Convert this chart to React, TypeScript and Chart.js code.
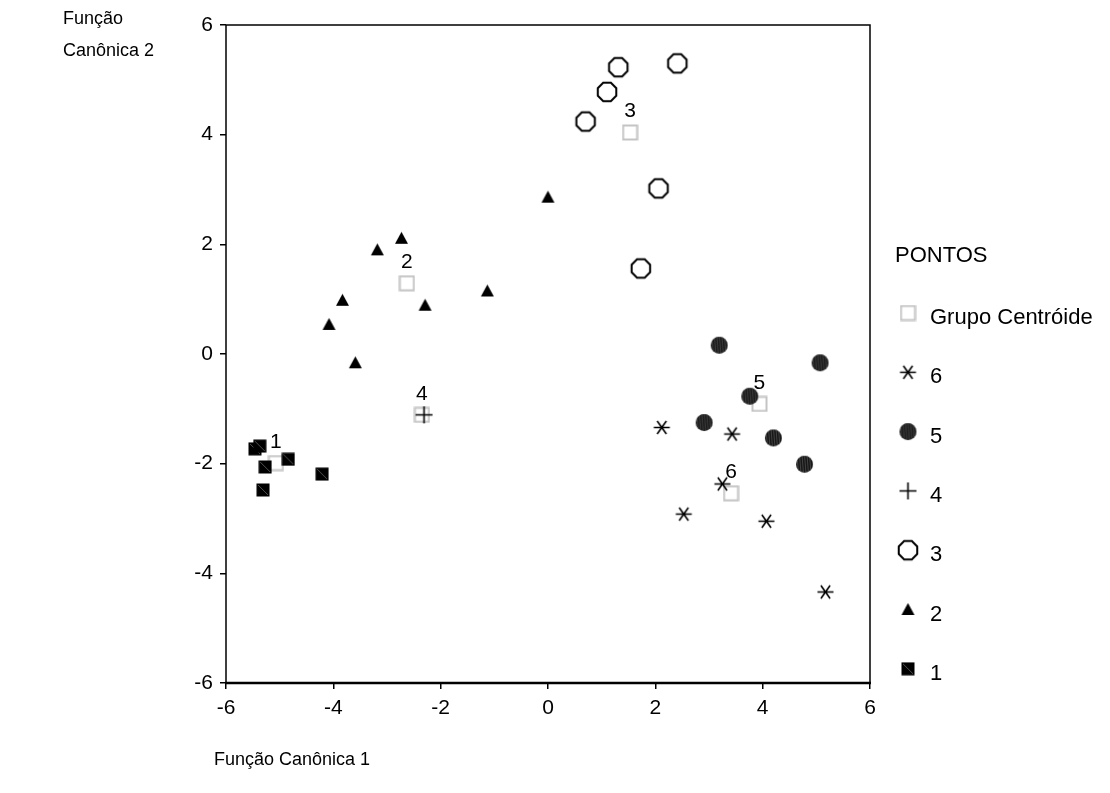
import React, { useEffect, useRef } from "react";
import { Chart, registerables } from "chart.js";

Chart.register(...registerables);

// ---- data ----
const group1X = [-5.46, -5.37, -5.27, -4.84, -5.31, -4.21];
const group1Y = [-1.73, -1.68, -2.06, -1.92, -2.48, -2.19];

const group2X = [-2.73, -3.18, -3.83, -4.08, -3.59, -2.29, -1.13, 0.0];
const group2Y = [2.11, 1.9, 0.98, 0.54, -0.16, 0.89, 1.15, 2.86];

const group3X = [1.31, 2.41, 1.1, 0.7, 2.06, 1.73];
const group3Y = [5.23, 5.3, 4.78, 4.24, 3.02, 1.56];

const group4X = [-2.31];
const group4Y = [-1.11];

const group5X = [3.19, 5.07, 3.76, 2.91, 4.2, 4.78];
const group5Y = [0.16, -0.16, -0.77, -1.25, -1.53, -2.01];

const group6X = [2.12, 3.43, 3.25, 2.53, 4.07, 5.17];
const group6Y = [-1.34, -1.46, -2.37, -2.92, -3.05, -4.34];

const centroidLabels = ["1", "2", "3", "4", "5", "6"];
const centroidX = [-5.07, -2.63, 1.53, -2.35, 3.94, 3.41];
const centroidY = [-1.99, 1.29, 4.04, -1.11, -0.91, -2.54];

const axisTicks = [-6, -4, -2, 0, 2, 4, 6];

const legendTitle = "PONTOS";
const legendLabels = ["Grupo Centróide", "6", "5", "4", "3", "2", "1"];
const yTitleLines = ["Função", "Canônica 2"];
const xTitle = "Função Canônica 1";

const FONT = "'Liberation Sans', Arial, sans-serif";
const FS = 21;
const TITLE_FS = 18;
const LEGEND_FS = 22;

// ---- marker images ----
function mk(size: number, draw: (c: CanvasRenderingContext2D, s: number) => void) {
  const cv = document.createElement("canvas");
  cv.width = size;
  cv.height = size;
  const c = cv.getContext("2d")!;
  draw(c, size);
  return cv;
}

function makeMarkers() {
  const square = mk(14, (c, s) => {
    c.fillStyle = "#000";
    c.fillRect(0.5, 0.5, s - 1, s - 1);
    c.strokeStyle = "#666";
    c.lineWidth = 0.8;
    c.beginPath();
    c.moveTo(2, 2);
    c.lineTo(s - 2, s - 2);
    c.stroke();
  });
  const triangle = mk(15, (c, s) => {
    c.fillStyle = "#000";
    c.beginPath();
    c.moveTo(s / 2, 1);
    c.lineTo(s - 1, s - 2);
    c.lineTo(1, s - 2);
    c.closePath();
    c.fill();
  });
  const octagon = mk(24, (c, s) => {
    c.strokeStyle = "#000";
    c.lineWidth = 2;
    const r = 10;
    c.beginPath();
    for (let i = 0; i < 8; i++) {
      const a = Math.PI / 8 + (i * Math.PI) / 4;
      const x = s / 2 + r * Math.cos(a);
      const y = s / 2 + r * Math.sin(a);
      if (i === 0) c.moveTo(x, y);
      else c.lineTo(x, y);
    }
    c.closePath();
    c.stroke();
  });
  const plus = mk(19, (c, s) => {
    c.strokeStyle = "#000";
    c.lineWidth = 1.6;
    c.beginPath();
    c.moveTo(1, s / 2);
    c.lineTo(s - 1, s / 2);
    c.moveTo(s / 2, 1);
    c.lineTo(s / 2, s - 1);
    c.stroke();
  });
  const hatched = mk(19, (c, s) => {
    c.save();
    c.beginPath();
    c.arc(s / 2, s / 2, 8.5, 0, Math.PI * 2);
    c.fillStyle = "#161616";
    c.fill();
    c.clip();
    c.strokeStyle = "#5a5a5a";
    c.lineWidth = 0.7;
    for (let x = 2; x < s; x += 2.5) {
      c.beginPath();
      c.moveTo(x, 0);
      c.lineTo(x + 1.5, s);
      c.stroke();
    }
    c.restore();
  });
  const asterisk = mk(19, (c, s) => {
    c.strokeStyle = "#000";
    c.lineWidth = 1.6;
    const r = 8;
    const cx = s / 2;
    c.beginPath();
    c.moveTo(cx - r, cx);
    c.lineTo(cx + r, cx);
    const a = (55 * Math.PI) / 180;
    c.moveTo(cx - r * Math.cos(a), cx - r * Math.sin(a));
    c.lineTo(cx + r * Math.cos(a), cx + r * Math.sin(a));
    c.moveTo(cx - r * Math.cos(a), cx + r * Math.sin(a));
    c.lineTo(cx + r * Math.cos(a), cx - r * Math.sin(a));
    c.stroke();
  });
  const centroid = mk(17, (c, s) => {
    c.strokeStyle = "#c4c4c4";
    c.lineWidth = 2;
    c.strokeRect(1.5, 1.5, s - 3, s - 3);
  });
  return { square, triangle, octagon, plus, hatched, asterisk, centroid };
}

function pts(xs: number[], ys: number[]) {
  return xs.map((x, i) => ({ x, y: ys[i] }));
}

export default function App() {
  const ref = useRef<HTMLCanvasElement | null>(null);

  useEffect(() => {
    const m = makeMarkers();
    const legendMarkers = [m.centroid, m.asterisk, m.hatched, m.plus, m.octagon, m.triangle, m.square];

    const overlay = {
      id: "overlay",
      afterDraw(chart: any) {
        const ctx = chart.ctx as CanvasRenderingContext2D;
        const a = chart.chartArea;
        ctx.save();
        // frame
        ctx.strokeStyle = "#000";
        ctx.lineWidth = 1.5;
        ctx.strokeRect(a.left, a.top, a.right - a.left, a.bottom - a.top);
        ctx.lineWidth = 2.5;
        ctx.beginPath();
        ctx.moveTo(a.left - 1, a.bottom);
        ctx.lineTo(a.right + 1, a.bottom);
        ctx.stroke();
        // centroid labels
        ctx.fillStyle = "#000";
        ctx.font = `${FS}px ${FONT}`;
        ctx.textAlign = "center";
        ctx.textBaseline = "middle";
        const meta = chart.getDatasetMeta(6);
        meta.data.forEach((el: any, i: number) => {
          ctx.fillText(centroidLabels[i], el.x, el.y - 21);
        });
        // axis titles
        ctx.textAlign = "left";
        ctx.font = `${TITLE_FS}px ${FONT}`;
        ctx.fillText(yTitleLines[0], 63, 19);
        ctx.fillText(yTitleLines[1], 63, 51);
        ctx.fillText(xTitle, 214, 760);
        // legend
        ctx.font = `${LEGEND_FS}px ${FONT}`;
        ctx.fillText(legendTitle, 895, 256);
        legendLabels.forEach((lab, i) => {
          const y = 316 + i * 59.3;
          const img = legendMarkers[i];
          ctx.drawImage(img, 908 - img.width / 2, y - 3 - img.height / 2);
          ctx.fillText(lab, 930, y + 2);
        });
        ctx.restore();
      },
    };

    const tickFont = { family: FONT, size: FS };
    const chart = new Chart(ref.current!, {
      type: "scatter",
      data: {
        datasets: [
          { label: "1", data: pts(group1X, group1Y), pointStyle: m.square as any },
          { label: "2", data: pts(group2X, group2Y), pointStyle: m.triangle as any },
          { label: "3", data: pts(group3X, group3Y), pointStyle: m.octagon as any },
          { label: "4", data: pts(group4X, group4Y), pointStyle: m.plus as any },
          { label: "5", data: pts(group5X, group5Y), pointStyle: m.hatched as any },
          { label: "6", data: pts(group6X, group6Y), pointStyle: m.asterisk as any },
          { label: "Grupo Centróide", data: pts(centroidX, centroidY), pointStyle: m.centroid as any },
        ],
      },
      options: {
        responsive: false,
        animation: false,
        layout: { padding: { top: 25, right: 240, left: 0, bottom: 0 } },
        plugins: { legend: { display: false }, tooltip: { enabled: false } },
        scales: {
          x: {
            type: "linear",
            min: -6,
            max: 6,
            afterBuildTicks: (s: any) => {
              s.ticks = axisTicks.map((v) => ({ value: v }));
            },
            ticks: { font: tickFont, color: "#000", padding: 7, maxRotation: 0 },
            grid: { drawOnChartArea: false, drawTicks: true, tickLength: 6, color: "#000", lineWidth: 1.5 },
            border: { display: false },
            afterFit: (s: any) => {
              s.height = 110;
            },
          },
          y: {
            type: "linear",
            min: -6,
            max: 6,
            afterBuildTicks: (s: any) => {
              s.ticks = axisTicks.map((v) => ({ value: v }));
            },
            ticks: { font: tickFont, color: "#000", padding: 7 },
            grid: { drawOnChartArea: false, drawTicks: true, tickLength: 6, color: "#000", lineWidth: 1.5 },
            border: { display: false },
            afterFit: (s: any) => {
              s.width = 226;
            },
          },
        },
      } as any,
      plugins: [overlay],
    });
    return () => chart.destroy();
  }, []);

  return (
    <div style={{ position: "fixed", left: 0, top: 0, width: 1110, height: 793, background: "#fff" }}>
      <canvas ref={ref} width={1110} height={793} style={{ width: 1110, height: 793 }} />
    </div>
  );
}
